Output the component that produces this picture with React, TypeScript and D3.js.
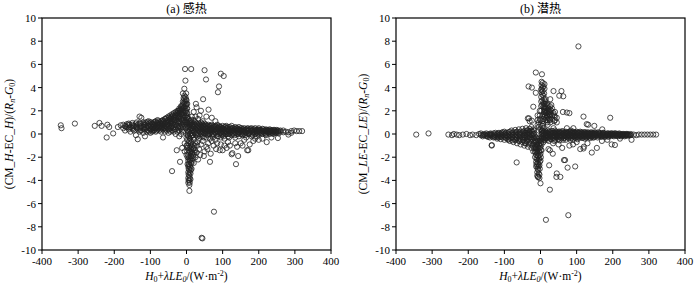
import React from 'react';
import * as d3 from 'd3';

type Col = [number, number[]];
type Pt = [number, number];

const xTicks = [-400, -300, -200, -100, 0, 100, 200, 300, 400];
const yTicks = [-10, -8, -6, -4, -2, 0, 2, 4, 6, 8, 10];
const titles = ['(a) 感热', '(b) 潜热'];
const fluxVars = ['H', 'LE'];

// ---------- panel (a): sensible heat ----------
const tailA: Pt[] = [
  [-348, 0.75], [-346, 0.5], [-309, 0.9], [-254, 0.7], [-241, 0.95], [-235, 0.7],
  [-221, -0.3], [-219, 0.8], [-214, 0.6], [-203, 0.05], [-190, 0.6], [-182, 0.75],
];
const bandLeftA: Col[] = [
  [-175, [0.5, 0.8]], [-170, [0.7, 0.3]], [-165, [0.6, 0.85]], [-160, [0.4, 0.75, 0.9]],
  [-155, [0.6, 0.2]], [-150, [0.8, 0.5, 0.95]], [-145, [0.3, 0.7]], [-140, [0.6, 0.9, -0.1]],
  [-135, [0.4, 0.8, -0.45]], [-130, [1.5, 0.5, 0.9, 0.2]], [-125, [1.4, 0.7, 0.3]],
  [-120, [0.6, 1.0, 0.1]], [-115, [0.8, 0.4, -0.2]], [-110, [0.5, 0.9, 0.2]],
  [-105, [0.7, 1.1, 0.3]], [-100, [0.4, 0.8, 1.0, 0.1]], [-95, [0.6, 0.9, 0.2]],
  [-90, [0.5, 1.0, 0.8, 0.3]], [-85, [0.7, 1.1, 0.2, 0.5]], [-80, [0.9, 0.4, 1.2, 0.6]],
  [-75, [0.6, 1.0, 0.3, 0.8]], [-70, [1.1, 0.5, 0.9, 0.2]], [-65, [0.7, 1.2, -0.3, 0.4, 1.0]],
  [-60, [0.9, 0.5, 1.3, 0.2, 0.7]], [-55, [1.0, 0.6, 1.4, 0.3, 0.8]],
  [-50, [1.2, 0.8, 0.4, 1.5, 0.1, 1.0]], [-45, [1.3, 0.9, 0.5, 1.6, 0.2, 1.1]],
  [-40, [1.1, 1.5, 0.7, 0.3, 1.7, 0.9]], [-35, [1.4, 1.0, 1.8, 0.6, 0.2, 1.2]],
  [-30, [1.6, 1.2, 0.8, 1.9, 0.4, 1.4, 0.0]], [-25, [1.8, 1.4, 1.0, 2.0, 0.6, 1.6, 0.2]],
  [-20, [2.0, 1.5, 1.1, 2.2, 0.7, 1.8, 0.3, -0.2]], [-15, [2.2, 1.7, 1.3, 2.4, 0.9, 2.0, 0.5, 0.0]],
  [-10, [2.5, 1.9, 1.5, 2.8, 1.1, 2.2, 0.6, 0.2, 3.5]], [-6, [3.0, 2.6, 2.0, 1.6, 1.2, 2.3, 0.8, 3.9, 3.3]],
  [-3, [3.2, 2.8, 2.4, 2.0, 1.5, 4.6, 1.0, 0.5]], [-4, [5.6]], [0, [2.6, 2.2, 1.8, 1.4, 1.0, 0.6, 2.9]],
];
const bandLeftA2: Col[] = [
  [-168, [0.6]], [-158, [0.55, 0.8]], [-148, [0.65, 0.4]], [-138, [0.7, 0.5, 1.0]],
  [-128, [0.6, 0.9, 0.3]], [-118, [0.75, 0.45, 0.9]], [-113, [0.6, 1.0]], [-108, [0.7, 0.35, 1.05]],
  [-103, [0.55, 0.9, 0.2]], [-98, [0.7, 1.0, 0.4]], [-93, [0.6, 0.85, 0.3]], [-88, [0.75, 1.05, 0.45]],
  [-83, [0.6, 0.95, 0.3]], [-78, [0.8, 1.1, 0.5]], [-73, [0.7, 0.4, 1.0]], [-68, [0.85, 0.55, 1.15]],
  [-63, [0.8, 1.1, 0.5]], [-58, [1.0, 0.7, 1.3, 0.4]], [-53, [0.9, 1.2, 0.6]], [-48, [1.1, 0.7, 1.4, 0.4]],
  [-43, [1.0, 1.4, 0.6]], [-38, [1.3, 0.9, 1.6, 0.5]], [-33, [1.2, 1.6, 0.8, 0.4]],
  [-28, [1.5, 1.1, 1.8, 0.7]], [-23, [1.7, 1.3, 2.0, 0.9, 0.5]], [-18, [1.9, 1.5, 2.1, 1.0, 0.6]],
  [-13, [2.1, 1.7, 2.4, 1.2, 0.8, 0.3]], [-8, [2.7, 2.3, 1.8, 1.4, 1.0, 3.1]],
  [-1, [3.0, 2.5, 2.0, 1.6, 1.2, 0.8, 3.5]], [2, [2.2, 1.8, 1.4, 1.0, 2.6]],
];
const spikeDownA: Col[] = [
  [2, [-0.5, -1.0, -1.5]], [5, [-0.8, -1.8, -2.3, -2.8, -3.3, -3.8, -4.2]],
  [8, [-0.6, -1.2, -2.0, -2.6, -3.1, -3.6, -4.0, -4.9, -4.4]], [11, [-1.0, -1.6, -2.2, -2.9, -3.4, -3.9]],
  [14, [-0.7, -1.4, -2.0, -2.5, -3.0]], [17, [-0.9, -1.6, -2.1]], [20, [-0.5, -1.2, -1.8]],
  [24, [-0.8, -1.4]], [-5, [-0.8, -1.5]], [-12, [-1.2]], [-18, [-2.4]], [-27, [-1.4]], [-40, [-3.2]],
  [3, [-1.2, -2.0, -2.6]], [6, [-1.4, -2.1, -2.6, -3.0, -3.5, -4.0]], [9, [-1.5, -2.3, -2.8, -3.3, -3.8, -4.2]],
  [12, [-0.8, -1.3, -1.9, -2.5, -3.1]], [15, [-1.1, -1.7, -2.3]], [18, [-1.3, -1.9]], [22, [-1.0, -1.6]],
  [0, [-1.0, -1.8, -0.3]],
];
const bandRightA: Col[] = [
  [5, [0.9, 0.5, 0.2, -0.2, 1.3]], [10, [0.8, 0.4, 0.0, 1.1, -0.4]], [15, [0.7, 0.3, 1.0, -0.1, 0.5]],
  [20, [0.9, 0.6, 0.2, -0.3, 1.2]], [25, [0.7, 0.4, 0.0, 1.0]], [30, [0.8, 0.5, 0.1, -0.2]],
  [35, [0.6, 0.3, 0.9, -0.4]], [40, [0.7, 0.4, 0.0, 1.0]], [45, [0.5, 0.2, 0.8, -0.2]],
  [50, [0.6, 0.3, 0.9, 0.0]], [55, [0.5, 0.2, 0.7, -0.3]], [60, [0.6, 0.3, 0.0, 0.8]],
  [65, [0.4, 0.7, 0.1, -0.4]], [70, [0.5, 0.2, 0.8, -0.1]], [75, [0.6, 0.3, 0.0, 0.7]],
  [80, [0.4, 0.1, 0.7, -0.5]], [85, [0.5, 0.2, 0.8, -0.2]], [90, [0.6, 0.3, 0.0, 0.7]],
  [95, [0.4, 0.1, 0.6, -0.3]], [100, [0.5, 0.2, 0.7, -0.1]], [105, [0.4, 0.1, 0.6, -0.4]],
  [110, [0.5, 0.2, 0.7, 0.0]], [115, [0.3, 0.6, 0.0, -0.2]], [120, [0.4, 0.1, 0.6]],
  [125, [0.5, 0.2, -0.1, 0.7]], [130, [0.3, 0.0, 0.5]], [135, [0.4, 0.1, 0.6, -0.3]],
  [140, [0.3, 0.0, 0.5]], [145, [0.4, 0.1, -0.2, 0.6]], [150, [0.3, 0.0, 0.5]],
  [155, [0.4, 0.2, -0.1]], [160, [0.3, 0.0, 0.5]], [165, [0.4, 0.1, -0.3]], [170, [0.3, 0.0, 0.5]],
  [175, [0.4, 0.1]], [180, [0.3, 0.0, 0.5, -0.2]], [185, [0.4, 0.1]], [190, [0.3, 0.0, 0.5]],
  [195, [0.35, 0.1, -0.2]], [200, [0.3, 0.0, 0.5]], [205, [0.35, 0.1]], [210, [0.25, 0.0, 0.45]],
  [215, [0.3, 0.1]], [220, [0.25, 0.0, 0.4, -0.1]], [225, [0.3, 0.1]], [230, [0.25, 0.0, 0.4]],
  [235, [0.3, 0.1]], [240, [0.2, 0.35, 0.0]], [245, [0.3, 0.1]], [250, [0.2, 0.35]],
  [255, [0.25, 0.05]], [260, [0.2, 0.3]], [268, [0.15, 0.3]], [275, [0.2]], [282, [-0.05, 0.15]],
  [290, [0.25, 0.1]], [298, [0.3]], [305, [0.25]], [312, [0.25]], [320, [0.25]],
];
const bandRightA2: Col[] = [
  [3, [0.7, 0.3, 1.0, -0.1, 1.5, 0.0]], [8, [0.6, 1.0, 0.2, -0.3, 0.8]], [13, [0.9, 0.5, 0.1, 1.2, -0.2]],
  [18, [0.6, 0.3, 0.8, -0.1]], [23, [0.8, 0.5, 0.1, 1.1]], [28, [0.6, 0.3, 0.9, -0.1]],
  [33, [0.7, 0.4, 0.0, 0.5]], [38, [0.5, 0.8, 0.2, -0.2]], [43, [0.6, 0.3, 0.9, 0.1]],
  [48, [0.4, 0.7, 0.1, -0.3]], [53, [0.6, 0.4, 0.0, 0.8]], [58, [0.5, 0.2, 0.7, -0.1]],
  [63, [0.6, 0.3, 0.0]], [68, [0.4, 0.7, 0.2]], [73, [0.5, 0.3, 0.0, -0.3]], [78, [0.6, 0.2, 0.4]],
  [83, [0.3, 0.6, 0.0]], [88, [0.5, 0.2, -0.2]], [93, [0.4, 0.6, 0.1]], [98, [0.3, 0.0, 0.5]],
  [103, [0.4, 0.2, -0.2]], [108, [0.3, 0.6, 0.0]], [113, [0.4, 0.2, 0.5]], [118, [0.3, 0.0, -0.3]],
  [123, [0.4, 0.2]], [128, [0.3, 0.5, 0.1]], [133, [0.4, 0.2, -0.1]], [138, [0.3, 0.5]],
  [143, [0.2, 0.4, 0.0]], [148, [0.35, 0.15]], [153, [0.3, 0.5, 0.0]], [158, [0.2, 0.4]],
  [163, [0.35, 0.15, -0.1]], [168, [0.25, 0.45]], [173, [0.3, 0.1, 0.0]], [178, [0.25, 0.45]],
  [183, [0.3, 0.15, -0.1]], [188, [0.2, 0.4]], [193, [0.3, 0.15]], [198, [0.25, 0.4, 0.05]],
  [203, [0.2, 0.35]], [208, [0.3, 0.1]], [213, [0.2, 0.4]], [218, [0.3, 0.1]], [223, [0.2, 0.35]],
  [228, [0.3, 0.15]], [233, [0.2, 0.35]], [238, [0.25, 0.1]], [243, [0.2, 0.35]], [248, [0.25, 0.1]],
  [253, [0.3, 0.15]],
];
const scatterA: Pt[] = [
  [13, 5.6], [50, 5.5], [54, 4.7], [95, 5.2], [103, 5.0], [90, 4.1], [87, 3.6], [46, 3.0],
  [26, 2.6], [28, 2.3], [61, 2.1], [36, 1.6], [20, 1.9], [40, 2.0], [55, 1.5], [32, 1.3],
  [45, 1.1], [70, 1.4], [80, 1.1], [15, 1.5], [25, 1.5],
  [67, -1.7], [65, -2.4], [82, -1.3], [92, -1.4], [111, -1.2], [125, -1.75], [143, -1.9],
  [137, -2.6], [171, -1.4], [222, -0.7], [253, -0.35], [127, -1.65], [168, -1.4], [76, -6.7],
  [42, -8.95], [44, -9.0], [40, -0.9], [55, -1.1], [95, -0.9], [105, -1.0], [150, -0.8],
  [185, -0.6], [35, -1.3], [50, -1.5], [30, -0.7], [60, -0.8], [75, -1.0], [115, -0.7],
  [135, -0.8], [160, -0.5], [200, -0.5],
  [30, -1.0], [45, -0.6], [58, -1.3], [70, -0.6], [85, -0.8], [100, -1.4], [120, -1.0],
  [140, -1.1], [155, -1.0], [175, -0.9], [190, -0.4], [210, -0.4], [235, -0.3], [48, -1.9],
  [38, -1.8], [28, -1.6], [20, -2.5], [25, -2.0], [32, -2.2],
];

// ---------- panel (b): latent heat ----------
const tailB: Pt[] = [
  [-344, -0.05], [-310, 0.05], [-255, -0.05], [-245, -0.1], [-240, 0.0], [-232, -0.05],
  [-225, -0.1], [-215, -0.05], [-205, 0.0], [-195, -0.1], [-188, -0.05], [-178, -0.1], [-170, 0.0],
];
const bandLeftB: Col[] = [
  [-165, [-0.1, 0.05]], [-160, [-0.05, -0.2]], [-155, [0.0, -0.1]], [-150, [-0.15, 0.05]],
  [-145, [-0.05, -0.25]], [-140, [0.0, -0.1, -0.3]], [-135, [-0.05, -0.2, -0.95]],
  [-130, [0.05, -0.15, -0.3]], [-125, [-0.1, 0.1, -0.25]], [-120, [0.0, -0.2, -0.4]],
  [-115, [-0.1, 0.1, -0.3]], [-110, [0.0, -0.2, -0.45]], [-105, [-0.1, 0.15, -0.3]],
  [-100, [0.0, -0.2, -0.5, 0.2]], [-95, [-0.1, 0.1, -0.35]], [-90, [0.05, -0.2, -0.5]],
  [-85, [-0.1, 0.2, -0.35, -0.6]], [-80, [0.0, -0.25, 0.3]], [-75, [-0.1, 0.15, -0.4, -0.7]],
  [-70, [0.05, -0.2, -0.5, 0.35]], [-66, [-2.45]], [-65, [-0.1, 0.2, -0.35, -0.8]],
  [-60, [0.0, -0.25, 0.4, -0.6]], [-55, [-0.1, 0.2, -0.45, -0.9]], [-50, [0.05, -0.3, 0.45, -0.7]],
  [-45, [-0.1, 0.25, -0.5, -1.0]], [-40, [0.1, -0.3, 0.5, -0.8]], [-35, [-0.05, 0.3, -0.55, -1.1, 1.35]],
  [-30, [0.1, -0.3, 0.45, -0.8, 1.1]], [-25, [-0.1, 0.3, -0.5, -1.2, 0.6]],
  [-20, [0.05, -0.35, 0.4, -0.9, -1.5]],
];
const bandLeftB2: Col[] = [
  [-158, [-0.1]], [-148, [-0.05, -0.2]], [-138, [-0.1, 0.05]], [-128, [-0.05, -0.25]],
  [-118, [-0.1, 0.05, -0.3]], [-108, [-0.05, -0.25, 0.1]], [-98, [-0.1, 0.05, -0.3]],
  [-88, [-0.05, -0.25, 0.15, -0.45]], [-78, [-0.1, 0.1, -0.3, -0.55]], [-68, [-0.05, -0.25, 0.15, -0.5]],
  [-58, [-0.1, 0.1, -0.35, -0.6]], [-48, [-0.05, -0.3, 0.2, -0.55]], [-43, [-0.1, 0.1, -0.35, -0.8]],
  [-38, [0.0, -0.25, 0.3, -0.6]], [-33, [-0.1, 0.15, -0.4, -0.9]], [-28, [0.0, -0.3, 0.25, -0.65]],
  [-23, [-0.1, 0.2, -0.45, -1.0]], [-18, [0.0, -0.3, 0.3, -0.7, -1.2]],
];
const spikeDownB: Col[] = [
  [-15, [-0.5, -1.0, -1.5, -2.0, -1.2, -0.2]], [-12, [-0.7, -1.3, -1.8, -2.4, -2.8, -0.3]],
  [-9, [-0.4, -1.0, -1.6, -2.2, -2.8, -3.3, -3.6]], [-6, [-0.6, -1.2, -1.9, -2.6, -3.1, -3.7]],
  [-3, [-0.3, -0.9, -1.5, -2.1, -2.7, -3.8, -3.5]], [0, [-0.5, -1.1, -1.7, -2.3, -4.25]],
  [3, [-0.4, -0.9, -1.4]],
  [-14, [-0.6, -1.1, -1.6]], [-11, [-0.9, -1.5, -2.1, -2.6]], [-8, [-0.7, -1.3, -1.9, -2.5, -3.0]],
  [-5, [-0.9, -1.5, -2.2, -2.8, -3.4]], [-2, [-0.6, -1.2, -1.8, -2.4, -3.0]], [1, [-0.8, -1.4, -2.0]],
];
const spikeUpB: Col[] = [
  [-13, [5.3, 3.55]], [4, [5.15]], [-33, [4.1]], [-24, [4.0, 1.15]], [3, [4.5, 4.2, 3.9, 3.6]],
  [6, [4.4, 4.0, 3.7]], [10, [3.5, 3.0, 2.6, 2.2, 1.9]], [13, [2.8, 2.3, 2.0, 1.6]],
  [16, [2.2, 1.8, 1.4]], [20, [2.5, 2.0, 1.5, 1.2, 0.8]], [24, [2.0, 1.7, 1.3]],
  [27, [3.0, 2.1, 1.6, 1.0]], [30, [2.5, 2.0]], [36, [3.7, 1.8, 0.5]], [40, [1.9, 1.5, 1.2]],
  [45, [1.4, 1.0]], [52, [3.3]], [58, [3.7]], [63, [3.25]], [62, [1.9]], [73, [1.85, 0.5]],
  [80, [1.8]], [84, [0.3]], [-20, [2.35]], [-32, [1.35]], [105, [7.55]], [119, [1.5]],
  [128, [0.85]], [132, [0.8]], [149, [0.7]], [193, [1.4]], [171, [0.4]], [91, [0.5]],
  [-5, [1.0, 0.6, 0.3]], [0, [1.2, 0.8, 0.4]], [5, [1.5, 1.1, 0.7, 0.3]], [8, [1.3, 0.9, 0.5]],
  [2, [3.8, 3.2, 2.8, 2.4, 2.0]], [5, [3.4, 2.9, 2.5]], [8, [4.1, 3.3, 2.7, 2.3, 1.7]],
  [11, [4.3, 3.9, 2.4, 2.0, 1.5]], [14, [3.0, 2.5, 1.8, 1.2]], [18, [2.6, 1.9, 1.6, 1.0]],
  [22, [2.2, 1.8, 1.4]], [26, [2.4, 1.9, 1.2]], [32, [2.2, 1.6, 1.3]], [38, [1.6, 1.1]],
  [-2, [2.0, 1.6, 1.3]], [-8, [1.6, 1.2, 0.8]],
];
const bandRightB: Col[] = [
  [5, [0.1, -0.2, -0.4, 0.3]], [10, [0.0, -0.3, 0.2, -0.5]], [15, [-0.1, 0.15, -0.35]],
  [20, [0.05, -0.25, -0.5, 0.3]], [25, [-0.1, 0.15, -0.3]], [30, [0.0, -0.2, 0.25, -0.45]],
  [35, [-0.1, 0.1, -0.3]], [40, [0.05, -0.2, 0.3, -0.5]], [45, [-0.1, 0.1, -0.3]],
  [50, [0.0, -0.2, 0.2, -0.45]], [55, [-0.1, 0.1, -0.3]], [60, [0.0, -0.2, 0.25]],
  [65, [-0.1, 0.1, -0.35]], [70, [0.0, -0.2, 0.2, -0.5]], [75, [-0.1, 0.1, -0.3]],
  [80, [0.0, -0.2, 0.2]], [85, [-0.1, 0.1, -0.35]], [90, [0.0, -0.2, 0.2, -0.5]],
  [95, [-0.1, 0.1, -0.3]], [100, [0.0, -0.2, 0.2]], [105, [-0.1, 0.1, -0.3]],
  [110, [0.0, -0.2, 0.2]], [115, [-0.1, 0.1, -0.35]], [120, [0.0, -0.2, 0.15]],
  [125, [-0.1, 0.1, -0.3]], [130, [0.0, -0.2, 0.15]], [135, [-0.1, 0.05, -0.3]],
  [140, [0.0, -0.2, 0.15]], [145, [-0.1, 0.05, -0.3]], [150, [0.0, -0.2, 0.15]],
  [155, [-0.1, 0.05]], [160, [0.0, -0.2, 0.15]], [165, [-0.1, 0.05]], [170, [0.0, -0.2]],
  [175, [-0.1, 0.1]], [180, [0.0, -0.2]], [185, [-0.1, 0.05]], [190, [0.0, -0.15]],
  [195, [-0.1, 0.05]], [200, [0.0, -0.15]], [205, [-0.1, 0.05]], [210, [0.0, -0.15]],
  [215, [-0.05, -0.2]], [220, [0.0, -0.1]], [225, [-0.05, -0.15]], [230, [0.0, -0.1]],
  [235, [-0.05, -0.15]], [240, [0.0, -0.1]], [245, [-0.05]], [250, [-0.1, 0.0]],
  [258, [-0.05]], [265, [-0.1]], [272, [-0.05]], [280, [-0.05]], [288, [-0.05]],
  [296, [-0.05]], [304, [-0.05]], [312, [-0.05]], [320, [-0.05]],
];
const bandRightB2: Col[] = [
  [3, [0.0, -0.3, 0.2, -0.6]], [8, [-0.1, 0.1, -0.4, -0.7]], [13, [0.05, -0.2, 0.3, -0.5]],
  [18, [-0.1, 0.1, -0.35]], [23, [0.0, -0.25, 0.2, -0.6]], [28, [-0.1, 0.1, -0.4]],
  [33, [0.05, -0.2, 0.25]], [38, [-0.1, 0.1, -0.35, -0.6]], [43, [0.0, -0.25, 0.2]],
  [48, [-0.1, 0.1, -0.4]], [53, [0.05, -0.2, 0.2, -0.55]], [58, [-0.1, 0.1, -0.35]],
  [63, [0.0, -0.2, 0.2, -0.5]], [68, [-0.1, 0.1, -0.3]], [73, [0.0, -0.25, 0.15]],
  [78, [-0.1, 0.1, -0.35]], [83, [0.0, -0.2, 0.2, -0.5]], [88, [-0.1, 0.1, -0.3]],
  [93, [0.0, -0.2, 0.15]], [98, [-0.1, 0.1, -0.35]], [103, [0.0, -0.2, 0.15, -0.45]],
  [108, [-0.1, 0.1, -0.3]], [113, [0.0, -0.2, 0.15]], [118, [-0.1, 0.05, -0.3]],
  [123, [0.0, -0.2, 0.15, -0.4]], [128, [-0.1, 0.05, -0.3]], [133, [0.0, -0.2, 0.1]],
  [138, [-0.1, 0.05, -0.35]], [143, [0.0, -0.2, 0.1]], [148, [-0.1, 0.05, -0.3]],
  [153, [0.0, -0.15, 0.1]], [158, [-0.1, -0.3]], [163, [0.0, -0.15, 0.1]], [168, [-0.1, -0.25]],
  [173, [0.0, -0.15, 0.1]], [178, [-0.1, -0.25]], [183, [0.0, -0.15]], [188, [-0.1, 0.05, -0.25]],
  [193, [0.0, -0.15]], [198, [-0.1, 0.05]], [203, [0.0, -0.2]], [208, [-0.1, 0.05]],
  [213, [0.0, -0.15]], [218, [-0.1, 0.05]], [223, [-0.05, -0.2]], [228, [-0.1, 0.0]],
  [233, [-0.05, -0.2]], [238, [-0.1, 0.0]], [243, [-0.05, -0.15]], [248, [-0.1]],
];
const scatterB: Pt[] = [
  [-135, -1.0], [26, -4.8], [15, -7.4], [77, -7.0], [-7, -3.7], [22, -1.3], [34, -1.7],
  [24, -2.7], [65, -2.25], [75, -2.9], [96, -2.8], [45, -3.4], [44, -3.7], [55, -3.7],
  [142, -1.6], [156, -1.2], [197, -0.9], [206, -0.95], [252, -0.5], [110, -1.3], [120, -1.1],
  [60, -1.2], [80, -1.0], [90, -0.9], [35, -0.8], [50, -0.9], [100, -0.7], [130, -0.8],
  [170, -0.6], [185, -0.5], [220, -0.4], [26, -1.4], [68, -2.25], [119, -1.25],
];

const flat = (cols: Col[]): Pt[] => cols.flatMap(([x, ys]) => ys.map((y) => [x, y] as Pt));

const pointsA: Pt[] = [
  ...tailA, ...flat(bandLeftA), ...flat(bandLeftA2), ...flat(spikeDownA),
  ...flat(bandRightA), ...flat(bandRightA2), ...scatterA,
];
const pointsB: Pt[] = [
  ...tailB, ...flat(bandLeftB), ...flat(bandLeftB2), ...flat(spikeDownB), ...flat(spikeUpB),
  ...flat(bandRightB), ...flat(bandRightB2), ...scatterB,
];

const SERIF = '"Liberation Serif", "Times New Roman", "Noto Sans CJK SC", serif';
const tStyle = { fontFamily: SERIF };

function Panel({ left, right, points, title, v }: { left: number; right: number; points: Pt[]; title: string; v: string }) {
  const top = 18;
  const bottom = 250;
  const x = d3.scaleLinear().domain([-400, 400]).range([left, right]);
  const y = d3.scaleLinear().domain([-10, 10]).range([bottom, top]);
  const cx = (left + right) / 2;
  const cy = (top + bottom) / 2;
  return (
    <g>
      <text x={cx} y={13} textAnchor="middle" fontSize={12} style={tStyle}>{title}</text>
      <g>
        {points.map(([px, py], i) => (
          <circle key={i} cx={x(px)} cy={y(py)} r={2.6} fill="none" stroke="#222" strokeWidth={0.8} />
        ))}
      </g>
      <rect x={left} y={top} width={right - left} height={bottom - top} fill="none" stroke="#000" strokeWidth={1.2} />
      {xTicks.map((t) => (
        <g key={'x' + t}>
          <line x1={x(t)} x2={x(t)} y1={bottom} y2={bottom + 4} stroke="#000" strokeWidth={1} />
          <text x={x(t)} y={bottom + 15} textAnchor="middle" fontSize={11} style={tStyle}>{t}</text>
        </g>
      ))}
      {yTicks.map((t) => (
        <g key={'y' + t}>
          <line x1={left - 4} x2={left} y1={y(t)} y2={y(t)} stroke="#000" strokeWidth={1} />
          <text x={left - 6} y={y(t) + 4} textAnchor="end" fontSize={11} style={tStyle}>{t}</text>
        </g>
      ))}
      <text x={cx} y={280} textAnchor="middle" fontSize={11.5} style={tStyle}>
        <tspan fontStyle="italic">H</tspan>
        <tspan fontSize={8} dy={2}>0</tspan>
        <tspan dy={-2}>+</tspan>
        <tspan fontStyle="italic">λLE</tspan>
        <tspan fontSize={8} fontStyle="italic" dy={2}>0</tspan>
        <tspan dy={-2}>/(W·m</tspan>
        <tspan fontSize={8} dy={-4}>-2</tspan>
        <tspan dy={4}>)</tspan>
      </text>
      <text transform={`translate(${left - 29},${cy}) rotate(-90)`} textAnchor="middle" fontSize={11.5} style={tStyle}>
        <tspan>(CM_</tspan>
        <tspan fontStyle="italic">{v}</tspan>
        <tspan>-EC_</tspan>
        <tspan fontStyle="italic">{v}</tspan>
        <tspan>)/(</tspan>
        <tspan fontStyle="italic">R</tspan>
        <tspan fontSize={8} fontStyle="italic" dy={2}>n</tspan>
        <tspan dy={-2}>-</tspan>
        <tspan fontStyle="italic">G</tspan>
        <tspan fontSize={8} dy={2}>0</tspan>
        <tspan dy={-2}>)</tspan>
      </text>
    </g>
  );
}

export default function App() {
  return (
    <svg width={700} height={285} style={{ position: 'absolute', left: 0, top: 0, background: '#fff' }}>
      <rect width={700} height={285} fill="#fff" />
      <Panel left={42} right={331} points={pointsA} title={titles[0]} v={fluxVars[0]} />
      <Panel left={396} right={685} points={pointsB} title={titles[1]} v={fluxVars[1]} />
    </svg>
  );
}
